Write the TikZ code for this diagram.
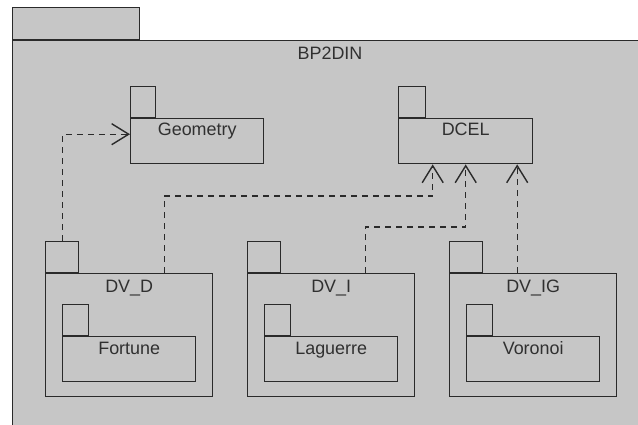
\documentclass[tikz,border=0pt]{standalone}
\usepackage{fontspec}
\setmainfont{Liberation Sans}
\usetikzlibrary{arrows.meta,positioning,calc}
\definecolor{pkgFill}{HTML}{C6C6C6}
\definecolor{pkgInk}{HTML}{2A2A2A}
\definecolor{pkgText}{HTML}{303030}
\tikzset{
  pkgbody/.style={draw=pkgInk,fill=pkgFill,line width=1.4bp,anchor=north west,inner sep=0pt},
  pkgtab/.style={draw=pkgInk,fill=pkgFill,line width=1.4bp,anchor=south west,inner sep=0pt,minimum height=31bp},
  pkglabel/.style={text=pkgText,font=\fontsize{18}{21}\selectfont,inner sep=0pt,text height=12.5bp,text depth=0pt},
  dep/.style={draw=pkgInk,line width=1.4bp,dash pattern=on 6bp off 5bp,
    -{Straight Barb[length=17bp,width=21bp,line width=1.4bp]}}
}

\begin{document}
\begin{tikzpicture}[x=1bp,y=-1bp]
  \useasboundingbox (0,0) rectangle (638,424);
  \clip (0,0) rectangle (638,424);
  \fill[white] (0,0) rectangle (638,424);

  % outer package
  \node[pkgbody,minimum width=640bp,minimum height=400bp] (bp2din) at (12,40) {};
  \node[pkgtab,minimum width=127bp,minimum height=32bp] (bp2din-tab) at (bp2din.north west) {};
  \node[pkglabel,anchor=north] (bp2din-name) at (330,47) {BP2DIN};

  % library packages
  \node[pkgbody,minimum width=133bp,minimum height=45bp] (geometry) at (130,118) {};
  \node[pkgtab,minimum width=25bp] (geometry-tab) at (geometry.north west) {};
  \node[pkglabel,below=5bp of geometry.north] (geometry-name) {Geometry};

  \node[pkgbody,minimum width=134bp,minimum height=45bp] (dcel) at (398,118) {};
  \node[pkgtab,minimum width=27bp] (dcel-tab) at (dcel.north west) {};
  \node[pkglabel,below=5bp of dcel.north] (dcel-name) {DCEL};

  % diagram packages with their algorithms
  \foreach \pkgid/\px/\pname/\algname in {dvd/45/DV\_D/Fortune, dvi/247/DV\_I/Laguerre, dvig/449/DV\_IG/Voronoi}{
    \node[pkgbody,minimum width=167bp,minimum height=123bp] (\pkgid) at (\px,273) {};
    \node[pkgtab,minimum width=33bp] (\pkgid-tab) at (\pkgid.north west) {};
    \node[pkglabel,below=7bp of \pkgid.north] (\pkgid-name) {\pname};
    \node[pkgbody,minimum width=133bp,minimum height=45bp] (\pkgid-alg) at ($(\pkgid.north west)+(17,63)$) {};
    \node[pkgtab,minimum width=26bp] (\pkgid-algtab) at (\pkgid-alg.north west) {};
    \node[pkglabel,below=6bp of \pkgid-alg.north] (\pkgid-algname) {\algname};
  }

  % dependencies
  \draw[dep] (dvd-tab.north) |- ([yshift=7bp]geometry.west);
  \draw[dep] ([xshift=35bp]dvd.north) -- ++(0,-77) -| ([xshift=-33bp]dcel.south);
  \draw[dep] ([xshift=34bp]dvi.north) -- ++(0,-46) -| (dcel.south);
  \draw[dep] ([xshift=-16bp]dvig.north) -- ([xshift=-16bp]dvig.north |- dcel.south);
\end{tikzpicture}
\end{document}
